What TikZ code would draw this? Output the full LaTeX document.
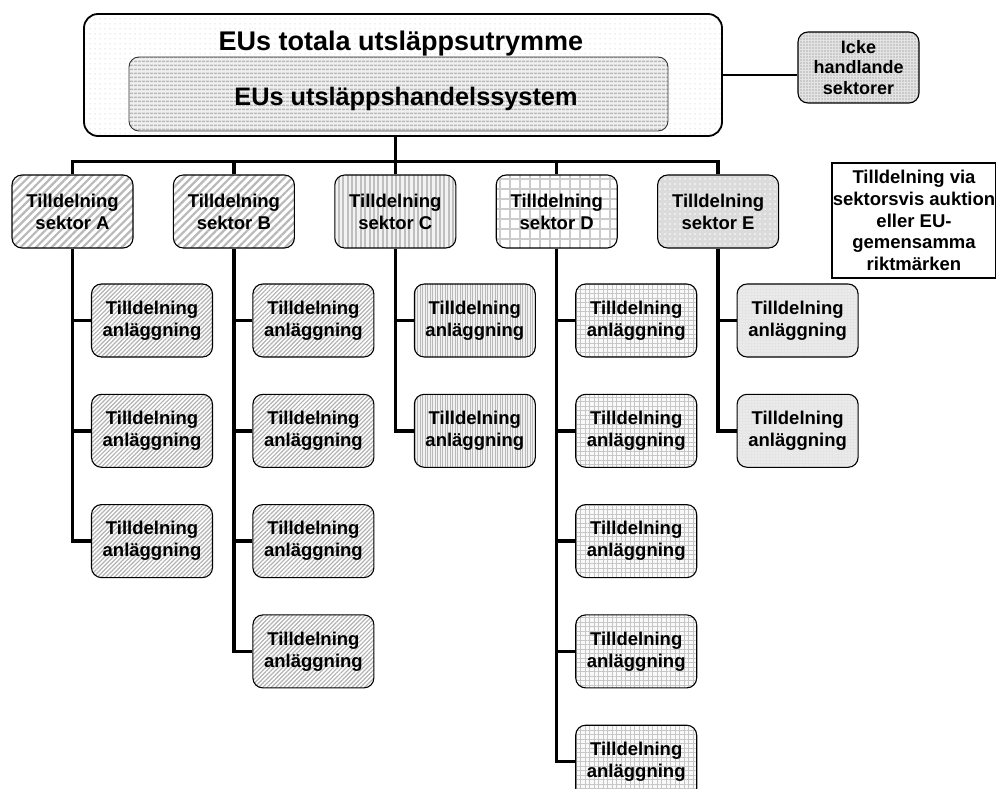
\documentclass[tikz,border=0pt]{standalone}
\usepackage{fontspec}
\setmainfont{Liberation Sans}
\usetikzlibrary{patterns.meta}

\tikzset{
  base/.style={draw=black, line width=1.1pt, rounded corners=10pt,
    minimum width=121pt, minimum height=73pt, inner sep=0pt, align=center,
    font=\fontsize{18.5}{22}\selectfont\bfseries},
  conn/.style={draw=black, line width=3.4pt, line join=miter},
  % sector fills
  secAB/.style={base, preaction={fill=white},
    pattern={Lines[angle=45,distance=5.5pt,line width=2.2pt]}, pattern color=gray!55},
  chAB/.style={base, preaction={fill=white},
    pattern={Lines[angle=45,distance=3pt,line width=1.2pt]}, pattern color=gray!60},
  secC/.style={base, preaction={fill=gray!10},
    pattern={Lines[angle=90,distance=4.4pt,line width=2pt]}, pattern color=gray!50},
  chC/.style={base, preaction={fill=gray!10},
    pattern={Lines[angle=90,distance=2.5pt,line width=1pt]}, pattern color=gray!55},
  secD/.style={base, preaction={fill=white},
    pattern={Hatch[distance=10pt,line width=1.2pt]}, pattern color=gray!40},
  chD/.style={base, preaction={fill=gray!5},
    pattern={Hatch[distance=4.5pt,line width=1pt]}, pattern color=gray!45},
  secE/.style={base, preaction={fill=gray!28},
    pattern={Dots[distance=5pt,radius=0.9pt]}, pattern color=white},
  chE/.style={base, preaction={fill=gray!20},
    pattern={Dots[distance=3pt,radius=0.7pt]}, pattern color=white},
}

\begin{document}
\begin{tikzpicture}[x=1pt, y=-1pt]
\useasboundingbox (0,0) rectangle (996,789);

% overall budget and trading system
\node[draw=black, line width=1.8pt, rounded corners=14pt, preaction={fill=white},
  pattern={Dots[distance=5pt,radius=0.5pt]}, pattern color=gray!55,
  minimum width=638pt, minimum height=122pt, inner sep=0pt] (outer) at (403,75) {};
\node[font=\fontsize{27}{30}\selectfont\bfseries] (outertitle) at (401,44) {EUs totala utsläppsutrymme};
\node[draw=gray!40!black, line width=0.9pt, rounded corners=10pt, preaction={fill=gray!12},
  pattern={Lines[angle=0,distance=4pt,line width=1.8pt]}, pattern color=gray!55,
  minimum width=539pt, minimum height=74pt, inner sep=0pt] (ets) at (398.5,94) {};
\node[font=\fontsize{25.3}{28}\selectfont\bfseries] (etstitle) at (406,99) {EUs utsläppshandelssystem};

% non-trading sectors
\node[base, preaction={fill=gray!22}, pattern={Dots[distance=3pt,radius=0.85pt]},
  pattern color=gray!60, minimum height=71pt, font=\fontsize{18}{20.5}\selectfont\bfseries]
  (icke) at (858.5,67.5) {Icke\\handlande\\sektorer};

% allocation note
\node[draw=black, line width=1.8pt, minimum width=164pt, minimum height=115pt, inner sep=0pt,
  align=center, font=\fontsize{18.5}{21.8}\selectfont\bfseries]
  (note) at (914,220.5) {Tilldelning via\\sektorsvis auktion\\eller EU-\\gemensamma\\riktmärken};

% sectors
\node[secAB] (sA) at (72.5,211.5) {Tilldelning\\sektor A};
\node[secAB] (sB) at (233.9,211.5) {Tilldelning\\sektor B};
\node[secC]  (sC) at (395.3,211.5) {Tilldelning\\sektor C};
\node[secD]  (sD) at (556.7,211.5) {Tilldelning\\sektor D};
\node[secE]  (sE) at (718.1,211.5) {Tilldelning\\sektor E};

% installations
\foreach \i in {1,2,3} \node[chAB] (a\i) at (152,{320.5+110.3*(\i-1)}) {Tilldelning\\anläggning};
\foreach \i in {1,2,3,4} \node[chAB] (b\i) at (313.4,{320.5+110.3*(\i-1)}) {Tilldelning\\anläggning};
\foreach \i in {1,2} \node[chC] (c\i) at (474.8,{320.5+110.3*(\i-1)}) {Tilldelning\\anläggning};
\foreach \i in {1,...,5} \node[chD] (d\i) at (636.2,{320.5+110.3*(\i-1)}) {Tilldelning\\anläggning};
\foreach \i in {1,2} \node[chE] (e\i) at (797.6,{320.5+110.3*(\i-1)}) {Tilldelning\\anläggning};

% connectors
\coordinate (bus) at (395.3,161.5);
\draw[conn] (bus |- outer.south) -- (bus);
\draw[conn] (sA.north) -- (sA.north |- bus) -- (sE.north |- bus) -- (sE.north);
\draw[conn] (sB.north) -- (sB.north |- bus);
\draw[conn] (sC.north) -- (sC.north |- bus);
\draw[conn] (sD.north) -- (sD.north |- bus);
\draw[draw=black, line width=2.4pt] (outer.east) -- (outer.east -| icke.west);

\draw[conn] (sA.south) |- (a3.west);
\foreach \i in {1,2} \draw[conn] (a\i.west) -- (a\i.west -| sA.south);
\draw[conn] (sB.south) |- (b4.west);
\foreach \i in {1,2,3} \draw[conn] (b\i.west) -- (b\i.west -| sB.south);
\draw[conn] (sC.south) |- (c2.west);
\draw[conn] (c1.west) -- (c1.west -| sC.south);
\draw[conn] (sD.south) |- (d5.west);
\foreach \i in {1,...,4} \draw[conn] (d\i.west) -- (d\i.west -| sD.south);
\draw[conn] (sE.south) |- (e2.west);
\draw[conn] (e1.west) -- (e1.west -| sE.south);
\end{tikzpicture}
\end{document}
